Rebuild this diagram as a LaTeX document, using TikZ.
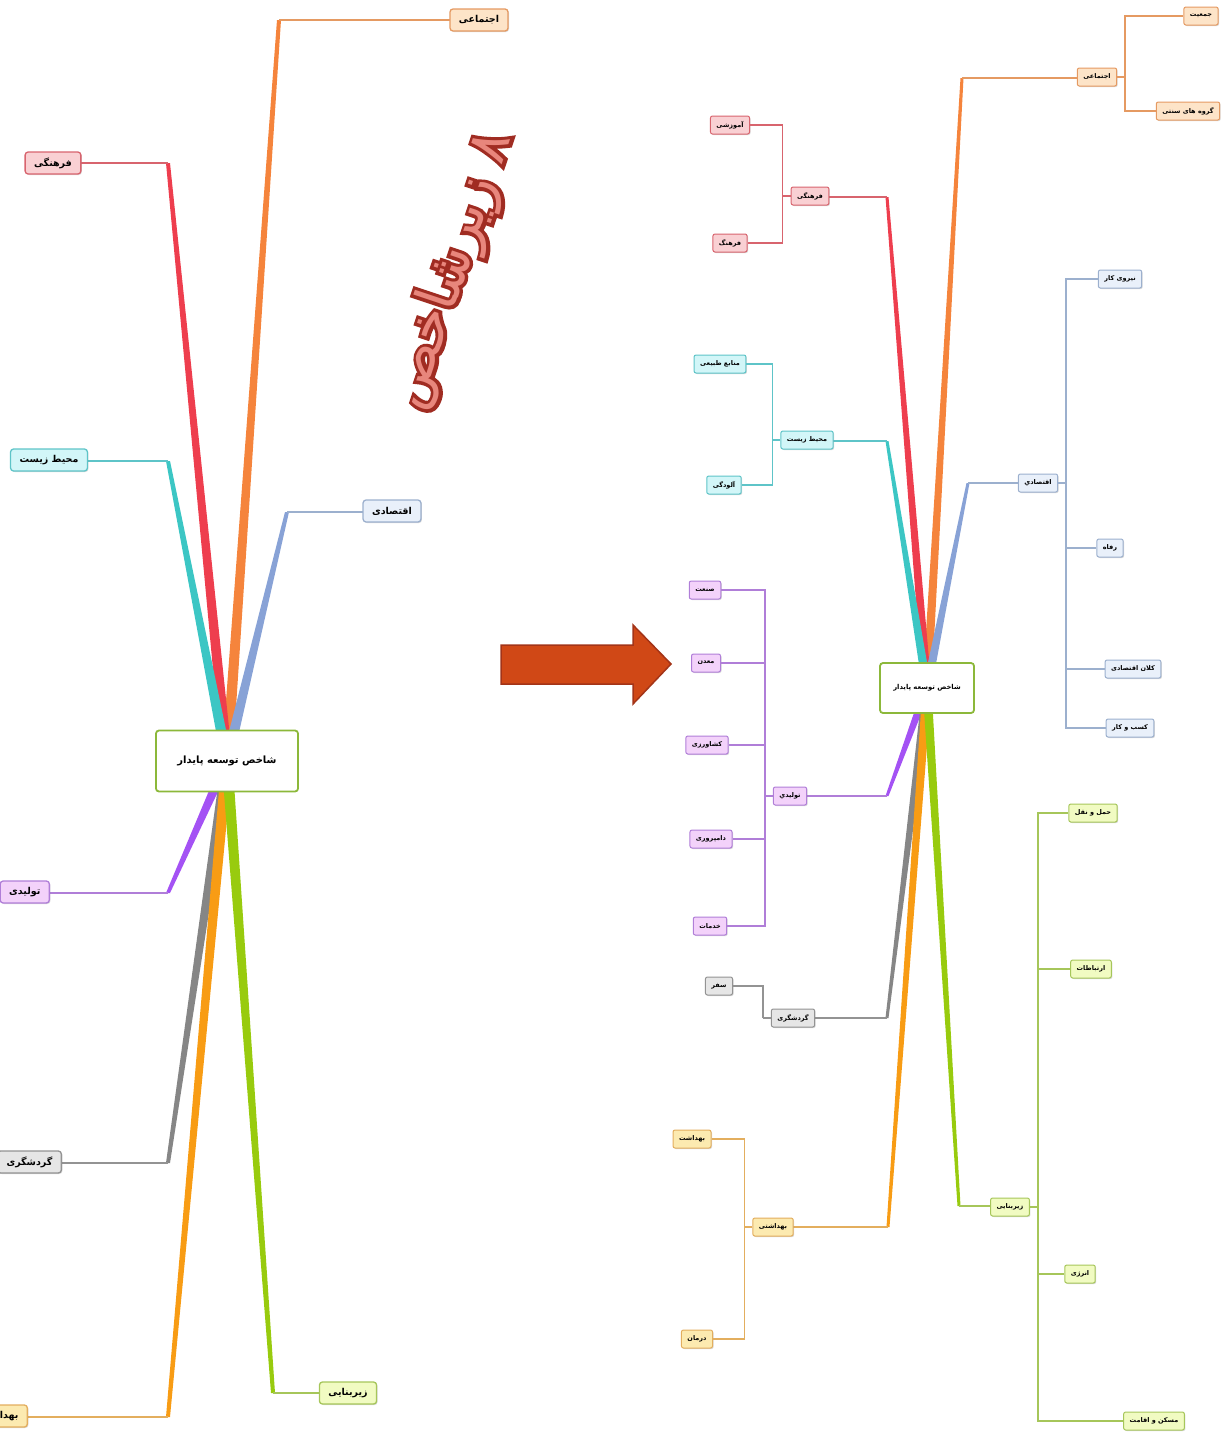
\documentclass[tikz,border=0pt]{standalone}
\usepackage{fontspec}
\newfontfamily\fafont[Script=Arabic]{DejaVu Sans}
\newfontfamily\faoutline[Script=Arabic, FakeBold=12]{DejaVu Sans}
\TeXXeTstate=1
\usetikzlibrary{positioning,calc,backgrounds,shadows}

\newcommand{\fa}[1]{\beginR #1\endR}
% tapered branch: colour, from, to, half width at start, half width at end
\newcommand{\taper}[5]{\fill[#1] ($(#2)+(-#4,0)$) -- ($(#2)+(#4,0)$) -- ($(#3)+(#5,0)$) -- ($(#3)+(-#5,0)$) -- cycle;}

\definecolor{linesoc}{HTML}{F5843C}
\definecolor{fillsoc}{HTML}{FDE4C8}
\definecolor{drawsoc}{HTML}{E59A62}
\definecolor{linecul}{HTML}{EE3E4E}
\definecolor{fillcul}{HTML}{F9D0D3}
\definecolor{drawcul}{HTML}{D8646E}
\definecolor{lineenv}{HTML}{3CC6C4}
\definecolor{fillenv}{HTML}{D2F6F8}
\definecolor{drawenv}{HTML}{5EC4C8}
\definecolor{lineeco}{HTML}{88A2D6}
\definecolor{filleco}{HTML}{E9F0FA}
\definecolor{draweco}{HTML}{9CB0CE}
\definecolor{linepro}{HTML}{A452F4}
\definecolor{fillpro}{HTML}{F3D2FA}
\definecolor{drawpro}{HTML}{B07ED8}
\definecolor{linetour}{HTML}{868686}
\definecolor{filltour}{HTML}{E6E6E6}
\definecolor{drawtour}{HTML}{939393}
\definecolor{linehel}{HTML}{F89C14}
\definecolor{fillhel}{HTML}{FCEAB0}
\definecolor{drawhel}{HTML}{E3AE5E}
\definecolor{lineinf}{HTML}{98CB0E}
\definecolor{fillinf}{HTML}{F1FBC2}
\definecolor{drawinf}{HTML}{A6C65A}
\definecolor{rootdraw}{HTML}{8CB83A}
\definecolor{arrowfill}{HTML}{D04816}
\definecolor{arrowdraw}{HTML}{A33418}
\definecolor{titledark}{HTML}{A02C22}
\definecolor{titlelight}{HTML}{E8867C}

\tikzset{
  rootbox/.style={draw=rootdraw, fill=white, rounded corners=3, line width=1.8},
  topicbox/.style={draw=draw#1, fill=fill#1, rounded corners=3, line width=1.3,
    inner xsep=9, minimum height=22, font={\fafont\bfseries\fontsize{9.5}{11}\selectfont},
    drop shadow={shadow xshift=1pt, shadow yshift=-1pt, opacity=.3, fill=gray}},
  leafbox/.style={topicbox=#1, line width=1, inner xsep=6, minimum height=18, rounded corners=2,
    font={\fafont\bfseries\fontsize{6.5}{7.5}\selectfont}},
  bracket/.style={draw=draw#1, line width=1.5},
  titletext/.style={rotate=71.5},
}

\begin{document}
\begin{tikzpicture}[x=1pt, y=-1pt]
    \useasboundingbox (0,0) rectangle (1229,1440);

    % Left map
    \node [rootbox, minimum width=142, minimum height=61, font={\fafont\bfseries\fontsize{10}{12}\selectfont}]
                                        (lroot) at (227,761)  {\fa{شاخص توسعه پایدار}};
    \node [topicbox=soc]                (lsoc)  at (479,20)   {\fa{اجتماعی}};
    \node [topicbox=cul]                (lcul)  at (53,163)   {\fa{فرهنگی}};
    \node [topicbox=env]                (lenv)  at (49,460)   {\fa{محیط زیست}};
    \node [topicbox=eco]                (leco)  at (392,511)  {\fa{اقتصادی}};
    \node [topicbox=pro, anchor=east]   (lpro)  at (50,892)   {\fa{تولیدی}};
    \node [topicbox=tour, anchor=east]  (ltour) at (62,1162)  {\fa{گردشگری}};
    \node [topicbox=hel, anchor=east]   (lhel)  at (28,1416)  {\fa{بهداشتی}};
    \node [topicbox=inf]                (linf)  at (348,1393) {\fa{زیربنایی}};

    \coordinate (lsoc-k)  at (279,20);
    \coordinate (lcul-k)  at (168,163);
    \coordinate (lenv-k)  at (168,461);
    \coordinate (leco-k)  at (287,512);
    \coordinate (lpro-k)  at (168,893);
    \coordinate (ltour-k) at (168,1163);
    \coordinate (lhel-k)  at (168,1417);
    \coordinate (linf-k)  at (273,1393);

    % Title and arrow
    \node [titletext, text=titledark, font={\faoutline\fontsize{56}{60}\selectfont}]
        (title-out) at (452,270) {\fa{۸ زیرشاخص}};
    \node [titletext, text=titlelight, font={\fafont\fontsize{56}{60}\selectfont}]
        (title) at (452,270) {\fa{۸ زیرشاخص}};
    \filldraw [fill=arrowfill, draw=arrowdraw, line width=1.5]
        (501,645) -- (633,645) -- (633,625) -- (671,664) -- (633,704) -- (633,684) -- (501,684) -- cycle;

    % Right map
    \node [rootbox, minimum width=94, minimum height=50, font={\fafont\bfseries\fontsize{6.8}{8}\selectfont}]
                               (rroot)   at (927,688)  {\fa{شاخص توسعه پایدار}};
    \node [leafbox=soc]        (rsoc)    at (1097,77)  {\fa{اجتماعی}};
    \node [leafbox=soc]        (rpop)    at (1201,16)  {\fa{جمعیت}};
    \node [leafbox=soc]        (rtrad)   at (1188,111) {\fa{گروه های سنتی}};
    \node [leafbox=cul]        (rcul)    at (810,196)  {\fa{فرهنگی}};
    \node [leafbox=cul]        (redu)    at (730,125)  {\fa{آموزشی}};
    \node [leafbox=cul]        (rcult)   at (730,243)  {\fa{فرهنگ}};
    \node [leafbox=env]        (renv)    at (807,440)  {\fa{محیط زیست}};
    \node [leafbox=env]        (rres)    at (720,364)  {\fa{منابع طبیعی}};
    \node [leafbox=env]        (rpoll)   at (724,485)  {\fa{آلودگی}};
    \node [leafbox=eco]        (reco)    at (1038,483) {\fa{اقتصادي}};
    \node [leafbox=eco]        (rwork)   at (1120,279) {\fa{نیروی کار}};
    \node [leafbox=eco]        (rwel)    at (1110,548) {\fa{رفاه}};
    \node [leafbox=eco]        (rmacro)  at (1133,669) {\fa{کلان اقتصادی}};
    \node [leafbox=eco]        (rbiz)    at (1130,728) {\fa{کسب و کار}};
    \node [leafbox=pro]        (rpro)    at (790,796)  {\fa{تولیدي}};
    \node [leafbox=pro]        (rind)    at (705,590)  {\fa{صنعت}};
    \node [leafbox=pro]        (rmine)   at (706,663)  {\fa{معدن}};
    \node [leafbox=pro]        (ragri)   at (707,745)  {\fa{کشاورزی}};
    \node [leafbox=pro]        (rlive)   at (711,839)  {\fa{دامپروری}};
    \node [leafbox=pro]        (rserv)   at (710,926)  {\fa{خدمات}};
    \node [leafbox=tour]       (rtour)   at (793,1018) {\fa{گردشگری}};
    \node [leafbox=tour]       (rtrip)   at (719,986)  {\fa{سفر}};
    \node [leafbox=hel]        (rhel)    at (773,1227) {\fa{بهداشتی}};
    \node [leafbox=hel]        (rhyg)    at (692,1139) {\fa{بهداشت}};
    \node [leafbox=hel]        (rcure)   at (697,1339) {\fa{درمان}};
    \node [leafbox=inf]        (rinf)    at (1010,1207) {\fa{زیربنایی}};
    \node [leafbox=inf]        (rtrans)  at (1093,813) {\fa{حمل و نقل}};
    \node [leafbox=inf]        (rcomm)   at (1091,969) {\fa{ارتباطات}};
    \node [leafbox=inf]        (renergy) at (1080,1274) {\fa{انرژی}};
    \node [leafbox=inf]        (rhouse)  at (1154,1421) {\fa{مسکن و اقامت}};

    \coordinate (rsoc-k)  at (962,78);
    \coordinate (rcul-k)  at (887,197);
    \coordinate (renv-k)  at (887,441);
    \coordinate (reco-k)  at (968,483);
    \coordinate (rpro-k)  at (887,796);
    \coordinate (rtour-k) at (887,1018);
    \coordinate (rhel-k)  at (888,1227);
    \coordinate (rinf-k)  at (959,1206);

    % Branches
    \begin{scope}[on background layer]
    \foreach \n in {soc,cul,env,eco,pro,tour,hel,inf}{
        \taper{line\n}{lroot.center}{l\n-k}{5.5}{2}
        \draw [draw\n, line width=2.5] (l\n-k) -- (l\n-k -| l\n);
        \taper{line\n}{rroot.center}{r\n-k}{4.5}{1.5}
        \draw [draw\n, line width=2] (r\n-k) -- (r\n-k -| r\n);
    }
    \end{scope}

    % Sub-branches
    \draw [bracket=soc] (rsoc.east) -- ++(8,0) coordinate (rsoc-b);
    \foreach \c in {rpop,rtrad} \draw [bracket=soc] (rsoc-b) |- (\c.west);
    \draw [bracket=cul] (rcul.west) -- ++(-8,0) coordinate (rcul-b);
    \foreach \c in {redu,rcult} \draw [bracket=cul] (rcul-b) |- (\c.east);
    \draw [bracket=env] (renv.west) -- ++(-8,0) coordinate (renv-b);
    \foreach \c in {rres,rpoll} \draw [bracket=env] (renv-b) |- (\c.east);
    \draw [bracket=eco] (reco.east) -- ++(8,0) coordinate (reco-b);
    \foreach \c in {rwork,rwel,rmacro,rbiz} \draw [bracket=eco] (reco-b) |- (\c.west);
    \draw [bracket=pro] (rpro.west) -- ++(-8,0) coordinate (rpro-b);
    \foreach \c in {rind,rmine,ragri,rlive,rserv} \draw [bracket=pro] (rpro-b) |- (\c.east);
    \draw [bracket=tour] (rtour.west) -- ++(-8,0) coordinate (rtour-b);
    \draw [bracket=tour] (rtour-b) |- (rtrip.east);
    \draw [bracket=hel] (rhel.west) -- ++(-8,0) coordinate (rhel-b);
    \foreach \c in {rhyg,rcure} \draw [bracket=hel] (rhel-b) |- (\c.east);
    \draw [bracket=inf] (rinf.east) -- ++(8,0) coordinate (rinf-b);
    \foreach \c in {rtrans,rcomm,renergy,rhouse} \draw [bracket=inf] (rinf-b) |- (\c.west);

\end{tikzpicture}
\end{document}
